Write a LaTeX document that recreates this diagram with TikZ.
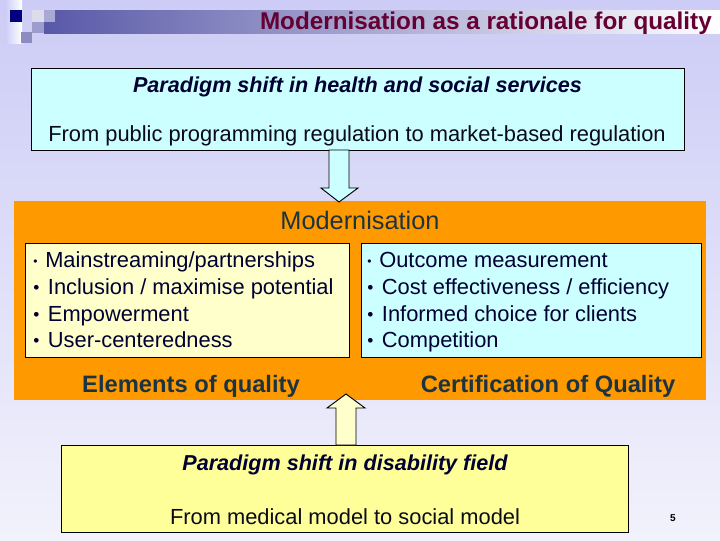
\documentclass[tikz,border=0pt]{standalone}
\usepackage{fontspec}
\setmainfont{Liberation Sans}
\usetikzlibrary{calc}
\definecolor{bgtop}{RGB}{204,204,246}
\definecolor{bgbot}{RGB}{242,242,252}
\definecolor{barleft}{RGB}{88,88,168}
\definecolor{navysq}{RGB}{0,0,128}
\definecolor{sqa}{RGB}{220,220,236}
\definecolor{sqb}{RGB}{156,156,207}
\definecolor{sqc}{RGB}{140,140,192}
\definecolor{sqd}{RGB}{169,169,214}
\definecolor{titlecol}{RGB}{102,0,51}
\definecolor{cyanfill}{RGB}{204,255,255}
\definecolor{yelfill}{RGB}{255,255,204}
\definecolor{botfill}{RGB}{255,255,153}
\definecolor{orangefill}{RGB}{255,153,0}
\definecolor{navytext}{RGB}{0,0,51}
\definecolor{headcol}{RGB}{28,52,66}
\definecolor{darktext}{RGB}{10,10,25}
\newcommand\smallbul{\makebox[9pt][l]{\raisebox{1pt}{\fontsize{9}{9}\selectfont •}}}
\newcommand\bigbul{\makebox[11pt][l]{\raisebox{0.3pt}{\fontsize{13}{13}\selectfont •}}}
\begin{document}
\begin{tikzpicture}[x=0.75pt,y=-0.75pt,
  panel/.style={draw=black, line width=0.7pt, inner sep=0pt, outer sep=0pt, rectangle},
  blockarrow/.style={draw=black, line width=0.7pt, line join=miter},
  bul/.style={anchor=base west, inner sep=0pt, text=navytext, font=\fontsize{16.4}{16.4}\selectfont},
  plain/.style={anchor=base, inner sep=0pt, font=\fontsize{16.4}{16.4}\selectfont},
  shiftlbl/.style={anchor=base, inner sep=0pt, text=navytext, font=\bfseries\itshape\fontsize{16.2}{16.2}\selectfont},
  qual/.style={anchor=base, inner sep=0pt, text=headcol, font=\bfseries\fontsize{17.8}{17.8}\selectfont}]
\useasboundingbox (0,0) rectangle (720,540);
% background
\shade[top color=bgtop, bottom color=bgbot] (0,0) rectangle (720,540);
% top-left decoration
\shade[left color=bgtop, right color=white] (5,0) rectangle (22,43);
\fill[navysq] (10,10) rectangle (22,22);
\fill[sqa] (32,10) rectangle (44,22);
\fill[sqb] (32,22) rectangle (44,33);
\fill[sqc] (21,32) rectangle (32,43);
\shade[left color=barleft, right color=white] (44,10) rectangle (720,33);
\fill[sqd] (44,10) rectangle (55,22);
\node[anchor=base east, inner sep=0pt, text=titlecol, font=\bfseries\fontsize{18.2}{18.2}\selectfont] (title) at (712,29.5) {Modernisation as a rationale for quality};
% top box
\node[panel, fill=cyanfill, minimum width=489.75pt, minimum height=61.5pt] (top) at (357.5,109) {};
\node[shiftlbl] (t1) at (357.5,92) {Paradigm shift in health and social services};
\node[plain, text=darktext] (t2) at (357,141) {From public programming regulation to market-based regulation};
% orange panel
\node[fill=orangefill, inner sep=0pt, outer sep=0pt, minimum width=519pt, minimum height=149.25pt] (mod) at (360,300.5) {};
\node[anchor=base, inner sep=0pt, text=headcol, font=\fontsize{19}{19}\selectfont] (modh) at (360,229) {Modernisation};
% left box
\node[panel, fill=yelfill, minimum width=243pt, minimum height=85.5pt] (lbox) at (187,300) {};
\node[bul] (l1) at (33,267) {\smallbul Mainstreaming/partnerships};
\node[bul] (l2) at (33,294) {\bigbul Inclusion / maximise potential};
\node[bul] (l3) at (33,321) {\bigbul Empowerment};
\node[bul] (l4) at (33,347) {\bigbul User-centeredness};
% right box
\node[panel, fill=cyanfill, minimum width=255pt, minimum height=85.5pt] (rbox) at (531,300) {};
\node[bul] (r1) at (367,267) {\smallbul Outcome measurement};
\node[bul] (r2) at (367,294) {\bigbul Cost effectiveness / efficiency};
\node[bul] (r3) at (367,321) {\bigbul Informed choice for clients};
\node[bul] (r4) at (367,347) {\bigbul Competition};
% quality labels
\node[qual] (eq) at (191,392) {Elements of quality};
\node[qual] (cq) at (548,392) {Certification of Quality};
% bottom box
\node[panel, fill=botfill, minimum width=425.25pt, minimum height=65.25pt] (bot) at (344.5,488.5) {};
\node[shiftlbl] (b1) at (345,470) {Paradigm shift in disability field};
\node[plain, text=darktext] (b2) at (345,524) {From medical model to social model};
% page number
\node[anchor=base, inner sep=0pt, font=\bfseries\fontsize{7.5}{7.5}\selectfont] (pg) at (673,521) {5};
% block arrows
\coordinate (dn) at ($(top.south)+(-28.5,0)$);
\draw[blockarrow, fill=cyanfill] (dn) -- ++(0,38) -- ++(-8,0) -- ++(18,14) -- ++(19,-14) -- ++(-9,0) -- ++(0,-38) -- cycle;
\coordinate (up) at ($(bot.north)+(-8.5,0)$);
\draw[blockarrow, fill=yelfill] (up) -- ++(0,-37) -- ++(-9,0) -- ++(19,-14) -- ++(19,14) -- ++(-9,0) -- ++(0,37) -- cycle;
\end{tikzpicture}
\end{document}
